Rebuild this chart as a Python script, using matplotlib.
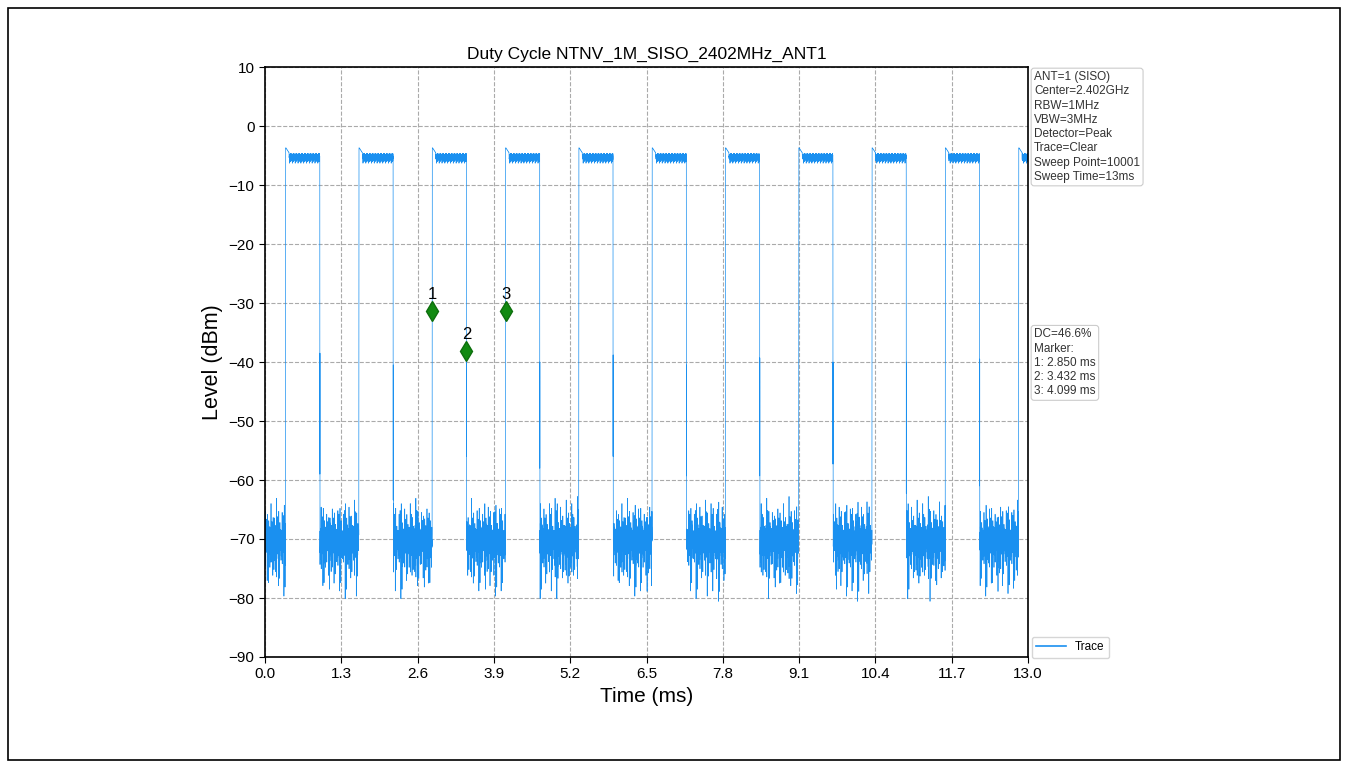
import numpy as np
import matplotlib
matplotlib.use("Agg")
import matplotlib.pyplot as plt
from matplotlib.patches import Rectangle

plt.rcParams['font.family'] = ['Liberation Sans', 'DejaVu Sans']

# ---------------- data ----------------
title = "Duty Cycle NTNV_1M_SISO_2402MHz_ANT1"
sweep_time_ms = 13.0
sweep_points = 10001
rise_times = [0.352, 1.601, 2.850, 4.099, 5.348, 6.597, 7.846, 9.095, 10.344, 11.593, 12.842]
on_width = 0.582
on_level = -4.6
off_level = -70.0
rise_peak = -3.7
rise_mid = [(-31.4, -31.4), (-34.6, -37.0), (-31.4, -31.4), (-31.4, -31.4), (-31.4, -31.4),
            (-31.4, -31.4), (-33.0, -35.0), (-31.4, -31.4), (-31.4, -31.4), (-31.4, -31.4),
            (-31.4, -31.4)]
fall_spikes = [(-38.5, -59.0), (-40.5, -63.4), (-38.2, -56.0), (-40.0, -58.0), (-38.8, -56.0),
               (-40.5, -59.3), (-39.3, -59.3), (-40.0, -57.3), (-40.0, -62.3), (-39.5, -61.0)]
overshoot = [0.9, 0.8, 0.7, 0.6, 0.5, 0.4, 0.3, 0.2, 0.1]
off_noise = [0.8, -1.5, 1.9, -0.6, -2.2, 1.3, 0.3, -1.8, 3.6, -1.1, -4.8, 1.2, -0.2, 2.1, -1.7,
             0.6, -7.4, 1.5, -0.8, 5.2, -2.0, 0.1, -1.3, 1.8, -2.6, 0.9, -0.4, 1.4, -3.9, 0.5,
             2.4, -1.5, -0.7, 1.7, -2.3, 2.8, -0.3, -3.2, 0.7, 1.6, -1.6, 0.0, 6.0, -2.1, -1.0,
             2.0, -2.8, 1.1, -0.6, -5.6, 1.3, 3.1, -1.2, -2.4, 0.3, 1.9, -0.9, -8.8, 1.6, -0.1,
             4.2, -1.9, 0.8, -2.9, 0.5, 1.2, -1.4, 3.4, -4.1, 1.0, -0.7, 2.3, -2.1]
off_envelope = [0.8, 1.0, 0.7, 1.15, 0.9, 0.75, 1.1, 0.85, 1.0, 0.7, 1.2, 0.9, 0.8, 1.05,
                0.75, 0.95, 1.1, 0.8, 0.9, 1.0, 0.7, 1.15, 0.85]
on_noise = [-0.1, -0.6, -0.3, -1.1, -0.2, -0.8, -0.4, -1.5, -0.1, -0.5, -0.9, -0.3, -0.7, -1.3,
            -0.2, -0.4, -1.0, -0.6, -0.1, -1.7, -0.3, -0.8, -0.5, -0.2, -1.2, -0.4, -0.7, -0.1,
            -0.9, -0.3, -1.4, -0.6, -0.2, -0.5, -1.0, -0.4, -0.8]
marker_labels = ["1", "2", "3"]
marker_times = [2.850, 3.432, 4.099]
marker_levels = [-31.4, -38.2, -31.4]
info_text = ("ANT=1 (SISO)\nCenter=2.402GHz\nRBW=1MHz\nVBW=3MHz\nDetector=Peak\n"
             "Trace=Clear\nSweep Point=10001\nSweep Time=13ms")
dc_text = "DC=46.6%\nMarker:\n1: 2.850 ms\n2: 3.432 ms\n3: 4.099 ms"
x_ticks = [0.0, 1.3, 2.6, 3.9, 5.2, 6.5, 7.8, 9.1, 10.4, 11.7, 13.0]
y_ticks = [10, 0, -10, -20, -30, -40, -50, -60, -70, -80, -90]

# ---------------- build trace ----------------
t = np.linspace(0, sweep_time_ms, sweep_points)
n = len(t)
idx = np.arange(n)
offn = np.array(off_noise)
env = np.array(off_envelope)
onn = np.array(on_noise)
level = off_level + offn[(idx * 7) % len(offn)] * env[(idx // 40) % len(env)]
on_vals = on_level + onn[(idx * 5) % len(onn)]
for k, r in enumerate(rise_times):
    f = r + on_width
    i0 = int(np.searchsorted(t, r))
    i1 = int(np.searchsorted(t, f))
    i1 = min(i1, n)
    level[i0:i1] = on_vals[i0:i1]
    ov = np.repeat(overshoot, 5)
    m = min(len(ov), i1 - i0)
    level[i0:i0 + m] = on_level + ov[:m]
    level[i0] = rise_peak
    a, b = rise_mid[k]
    if i0 - 2 >= 0:
        level[i0 - 2] = a
        level[i0 - 1] = b
    if k < len(fall_spikes) and i1 + 1 < n:
        hi, lo = fall_spikes[k]
        level[i1] = lo
        level[i1 + 1] = hi

# ---------------- plot ----------------
fig = plt.figure(figsize=(13.48, 7.69), dpi=100)
ax = fig.add_axes([265 / 1348, 1 - 657 / 769, (1028 - 265) / 1348, (657 - 67) / 769])

ax.plot(t, level, color='#1a90f0', lw=0.5, label='Trace')
ax.plot(marker_times, marker_levels, linestyle='none', marker='d', color='#118a11',
        markersize=10, markeredgecolor='#0d6e0d')
for lab, mt, ml in zip(marker_labels, marker_times, marker_levels):
    ax.annotate(lab, (mt, ml), xytext=(0, 7), textcoords='offset points',
                ha='center', va='bottom', fontsize=12)

ax.set_xlim(0, 13)
ax.set_ylim(-90, 10)
ax.set_xticks(x_ticks)
ax.set_xticklabels([f"{v:.1f}" for v in x_ticks])
ax.set_yticks(y_ticks)
ax.tick_params(labelsize=11, direction='out', length=4)
ax.grid(True, linestyle='--', color='#aaaaaa', lw=0.8)
for s in ax.spines.values():
    s.set_linewidth(1.2)
ax.set_title(title, fontsize=12.5, pad=6)
ax.set_xlabel("Time (ms)", fontsize=15)
ax.set_ylabel("Level (dBm)", fontsize=15.5)

box = dict(boxstyle='round,pad=0.25', facecolor='white', edgecolor='#cccccc', lw=0.8)
ax.text(1.008, 0.993, info_text, transform=ax.transAxes, ha='left', va='top',
        fontsize=8.5, color='#333333', bbox=box, linespacing=1.25)
ax.text(1.008, 0.557, dc_text, transform=ax.transAxes, ha='left', va='top',
        fontsize=8.5, color='#333333', bbox=box, linespacing=1.25)
leg = ax.legend(loc='lower left', bbox_to_anchor=(1.0, -0.008), fontsize=8.5, frameon=True,
                handlelength=2.5, borderaxespad=0.3)
for ln in leg.get_lines():
    ln.set_linewidth(1.2)

fig.patches.append(Rectangle((8 / 1348, 9 / 769), (1340 - 8) / 1348, (760 - 8) / 769,
                             transform=fig.transFigure, fill=False, edgecolor='black', lw=1.2))

fig.savefig("out.png", dpi=100)
